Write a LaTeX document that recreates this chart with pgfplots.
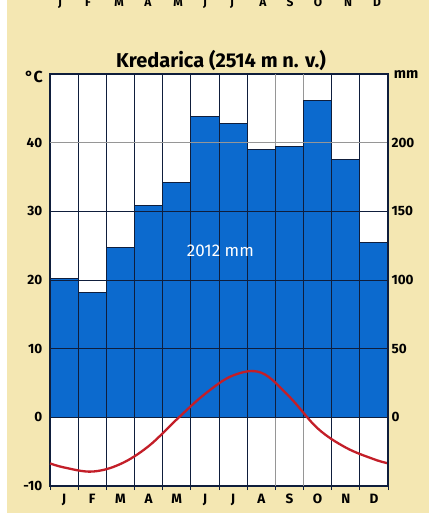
\documentclass[border=0pt]{standalone}
\usepackage{fontspec}
\setmainfont{Fira Sans}
\usepackage{pgfplots}
\usepackage{pgfplotstable}
\pgfplotsset{compat=1.18}
\definecolor{bg}{RGB}{244,231,178}
\definecolor{barblue}{RGB}{12,106,206}
\definecolor{navy}{RGB}{15,30,60}
\definecolor{curve}{RGB}{195,30,40}
\definecolor{gline}{RGB}{150,150,150}
\pgfplotstableread{
m mm
0 101
1 91
2 124
3 154
4 171
5 219
6 214
7 195
8 197
9 231
10 188
11 127
12 127
}\precip
\pgfplotstableread{
x t
0 -6.7
0.5 -7.3
1.5 -7.9
2.5 -6.8
3.5 -4.2
4.5 -0.3
5.5 3.4
6.5 6.1
7.5 6.5
8.5 3.0
9.5 -1.6
10.5 -4.4
11.5 -6.1
12 -6.7
}\temp
\begin{document}
\begin{tikzpicture}[x=1pt,y=1pt]
\useasboundingbox (0,0) rectangle (429,-522);
\fill[white] (0,0) rectangle (429,-522);
\fill[bg] (7,0) rectangle (429,-513);
\begin{scope}
\clip (0,0) rectangle (429,-522);
\foreach \m/\xx in {J/60,F/88,M/119,A/148,M/178,J/205,J/232,A/263,S/290,O/318,N/348,D/377}
  \node[font=\bfseries\fontsize{12}{13}\selectfont, anchor=base, inner sep=0pt] at (\xx,-6) {\m};
\end{scope}
\node[font=\bfseries\fontsize{20}{22}\selectfont] at (221,-60) {Kredarica (2514 m n. v.)};
\node[font=\bfseries\fontsize{16}{17}\selectfont] at (34,-77) {°C};
\node[font=\bfseries\fontsize{14.5}{15}\selectfont] at (406,-75) {mm};
\begin{axis}[
  at={(50pt,-74pt)}, anchor=north west,
  scale only axis, width=338pt, height=412pt,
  xmin=0, xmax=12, ymin=-10, ymax=50,
  axis background/.style={fill=white},
  axis line style={navy, line width=1.1pt},
  xtick={0.5,1.5,...,11.5},
  xticklabels={J,F,M,A,M,J,J,A,S,O,N,D},
  minor xtick={0,1,...,12},
  xtick pos=bottom,
  major x tick style={draw=none},
  minor x tick style={navy, line width=1pt},
  minor tick length=4pt,
  tick align=outside,
  ytick={-10,0,10,20,30,40},
  ytick pos=left,
  major y tick style={draw=none},
  ticklabel style={font=\bfseries\fontsize{13.5}{14}\selectfont},
  yticklabel style={xshift=0pt},
  xticklabel style={yshift=0pt},
  /pgf/number format/assume math mode=true,
  clip=false,
]
% vertical grid lines
\foreach \v in {1,2,3,4,5,6,7,10,11} {
  \edef\tmp{\noexpand\addplot[navy, line width=1pt, forget plot] coordinates {(\v,-10) (\v,50)};}
  \tmp
}
\addplot[gline, line width=1.2pt, forget plot] coordinates {(8,-10) (8,50)};
\addplot[gline, line width=1.2pt, forget plot] coordinates {(9,-10) (9,50)};
% bars
\addplot[ybar interval, fill=barblue, draw=navy, line width=0.9pt] table[x=m, y expr=\thisrow{mm}/5] {\precip};
% horizontal grid
\addplot[navy, line width=1pt] coordinates {(0,0) (12,0)};
\addplot[navy, line width=1pt] coordinates {(0,10) (12,10)};
\addplot[navy, line width=1pt] coordinates {(0,20) (12,20)};
\addplot[navy, line width=1pt] coordinates {(0,30) (12,30)};
\addplot[gline, line width=1.3pt] coordinates {(0,40) (12,40)};
% temperature
\addplot[curve, line width=2.3pt, smooth, tension=0.6] table[x=x, y=t] {\temp};
\node[white, font=\fontsize{17}{18}\selectfont] at (axis cs:6.05,24.3) {2012 mm};
\end{axis}
\begin{axis}[
  at={(50pt,-74pt)}, anchor=north west,
  scale only axis, width=338pt, height=412pt,
  xmin=0, xmax=12, ymin=-50, ymax=250,
  axis x line=none,
  axis y line*=right,
  axis line style={navy, line width=1.1pt},
  ytick={0,50,100,150,200},
  major y tick style={draw=none},
  ticklabel style={font=\bfseries\fontsize{13.5}{14}\selectfont},
  yticklabel style={xshift=0pt},
  /pgf/number format/assume math mode=true,
]
\addplot[draw=none] coordinates {(0,0)};
\end{axis}
\end{tikzpicture}
\end{document}
